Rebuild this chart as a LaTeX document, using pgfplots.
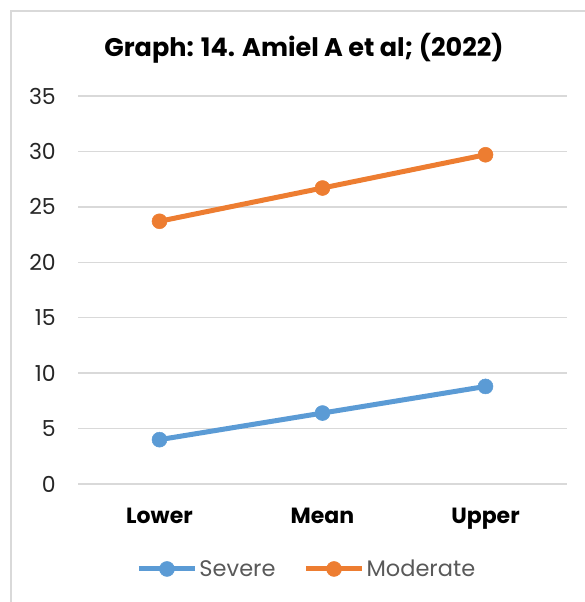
\documentclass[border=0pt]{standalone}
\usepackage{fontspec}
\setmainfont{Poppins}
\usepackage{pgfplots}
\pgfplotsset{compat=1.18}
\definecolor{sevblue}{HTML}{5B9BD5}
\definecolor{modorange}{HTML}{ED7D31}
\definecolor{gridgray}{HTML}{D9D9D9}
\definecolor{legtext}{HTML}{595959}
\definecolor{ticktext}{HTML}{262626}
\begin{document}
\begin{tikzpicture}[x=1pt,y=1pt]
\useasboundingbox (0,0) rectangle (585,602);
% chart frame (continues past the right and bottom edges)
\begin{scope}
\clip (0,0) rectangle (585,602);
\draw[gridgray, line width=1.5pt] (11,-20) -- (11,591) -- (620,591);
\end{scope}
\node[anchor=base, font=\fontsize{25.5}{29}\selectfont\bfseries] at (304,545) {Graph: 14. Amiel A et al; (2022)};
\begin{axis}[
  at={(78pt,118pt)}, anchor=south west,
  scale only axis, width=489pt, height=388pt,
  xmin=-0.5, xmax=2.5, ymin=0, ymax=35,
  xtick={0,1,2}, xticklabels={Lower,Mean,Upper},
  ytick={0,5,...,35},
  axis line style={draw=none},
  major tick length=0pt,
  ymajorgrids, grid style={gridgray, line width=1.3pt},
  /pgf/number format/assume math mode=true,
  yticklabel style={font=\fontsize{22}{26}\selectfont, text=ticktext, inner sep=0pt, anchor=east},
  yticklabel shift=22pt,
  xticklabel style={font=\fontsize{22}{26}\selectfont\bfseries, text=black, inner sep=0pt, anchor=base},
  xticklabel shift=40pt,
  legend columns=2,
  legend style={at={(0.468,-0.219)}, anchor=center, draw=none, fill=none,
    font=\fontsize{22.5}{26}\selectfont, text=legtext,
    /tikz/every even column/.append style={column sep=26pt},
    nodes={inner sep=2pt},
    inner sep=0pt},
  legend image code/.code={%
    \draw[#1, mark=none] (0pt,0pt) -- (56pt,0pt);
    \draw[#1, only marks] plot coordinates {(28pt,0pt)};},
  every axis plot/.append style={line width=5pt, mark=*, mark size=7.5pt},
  clip=false,
]
\addplot[sevblue, mark options={fill=sevblue, draw=sevblue, line width=0.5pt}] coordinates {(0,4.0) (1,6.4) (2,8.8)};
\addlegendentry{Severe}
\addplot[modorange, mark options={fill=modorange, draw=modorange, line width=0.5pt}] coordinates {(0,23.7) (1,26.7) (2,29.7)};
\addlegendentry{Moderate}
\end{axis}
\end{tikzpicture}
\end{document}
